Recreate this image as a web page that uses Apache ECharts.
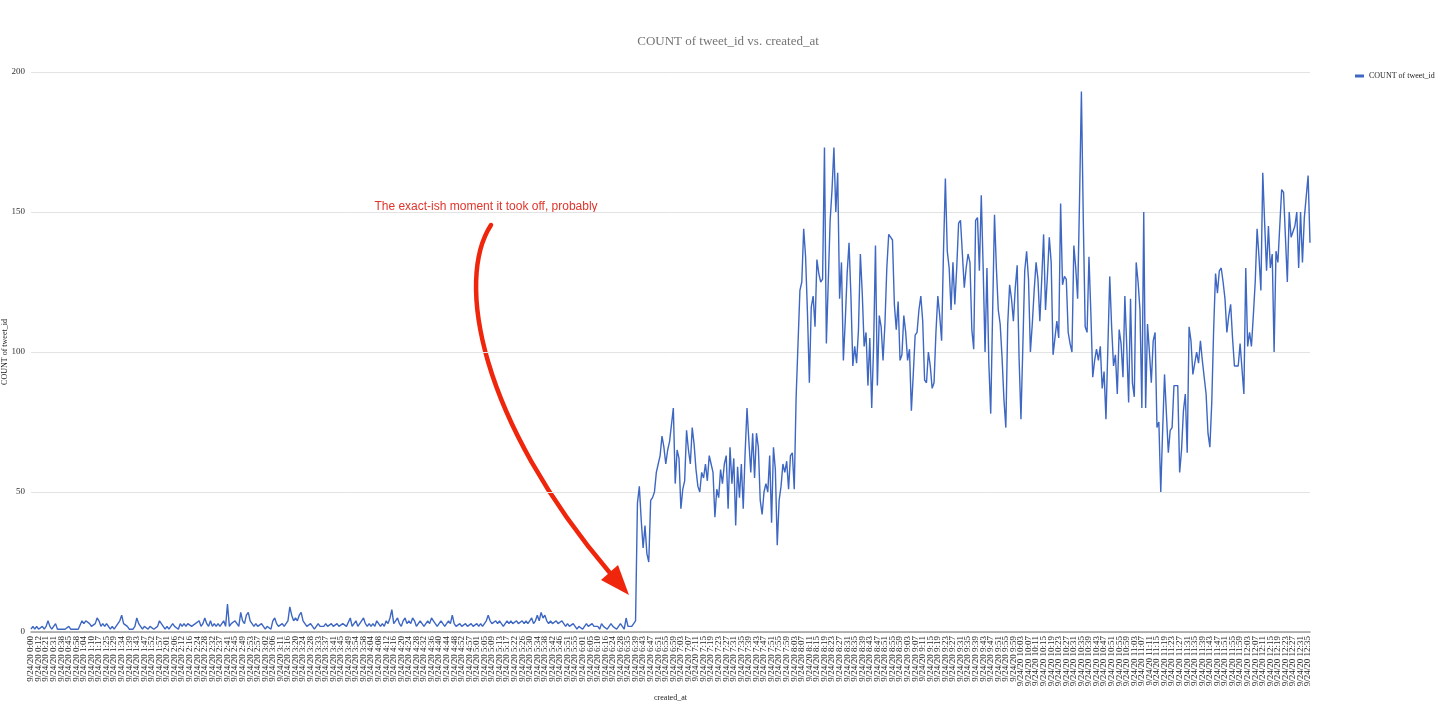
<!DOCTYPE html>
<html>
<head>
<meta charset="utf-8">
<title>COUNT of tweet_id vs. created_at</title>
<script src="https://cdn.jsdelivr.net/npm/echarts@6/dist/echarts.min.js"></script>
<style>
  html, body { margin: 0; padding: 0; background: #fff; }
  #chart { width: 1456px; height: 709px; }
</style>
</head>
<body>
<div id="chart"></div>
<script>
// x 轴上显示的时间标签（每 4 个类目显示一个）
const tickTimes = [
  '0:00', '0:12', '0:21', '0:31', '0:38', '0:45', '0:58', '1:04', '1:10', '1:17',
  '1:25', '1:29', '1:34', '1:39', '1:43', '1:47', '1:52', '1:57', '2:01', '2:06',
  '2:12', '2:16', '2:24', '2:28', '2:32', '2:37', '2:41', '2:45', '2:49', '2:53',
  '2:57', '3:02', '3:06', '3:11', '3:16', '3:20', '3:24', '3:28', '3:33', '3:37',
  '3:41', '3:45', '3:49', '3:54', '3:58', '4:04', '4:08', '4:12', '4:16', '4:20',
  '4:24', '4:28', '4:32', '4:36', '4:40', '4:44', '4:48', '4:52', '4:57', '5:01',
  '5:05', '5:09', '5:13', '5:17', '5:22', '5:26', '5:30', '5:34', '5:38', '5:42',
  '5:46', '5:51', '5:55', '6:01', '6:05', '6:10', '6:16', '6:24', '6:28', '6:35',
  '6:39', '6:43', '6:47', '6:51', '6:55', '6:59', '7:03', '7:07', '7:11', '7:15',
  '7:19', '7:23', '7:27', '7:31', '7:35', '7:39', '7:43', '7:47', '7:51', '7:55',
  '7:59', '8:03', '8:07', '8:11', '8:15', '8:19', '8:23', '8:27', '8:31', '8:35',
  '8:39', '8:43', '8:47', '8:51', '8:55', '8:59', '9:03', '9:07', '9:11', '9:15',
  '9:19', '9:23', '9:27', '9:31', '9:35', '9:39', '9:43', '9:47', '9:51', '9:55',
  '9:59', '10:03', '10:07', '10:11', '10:15', '10:19', '10:23', '10:27', '10:31', '10:35',
  '10:39', '10:43', '10:47', '10:51', '10:55', '10:59', '11:03', '11:07', '11:11', '11:15',
  '11:19', '11:23', '11:27', '11:31', '11:35', '11:39', '11:43', '11:47', '11:51', '11:55',
  '11:59', '12:03', '12:07', '12:11', '12:15', '12:19', '12:23', '12:27', '12:31', '12:35'
]

// 0:00 - 6:38 每分钟的推文数
const countsBefore = [
  1, 2, 1, 2, 1, 1, 2, 1, 2, 4, 2, 1, 1, 3, 1, 1, 1, 1, 1, 1,
  2, 1, 1, 1, 1, 1, 1, 4, 3, 4, 4, 3, 2, 2, 3, 5, 4, 2, 3, 2,
  3, 2, 1, 2, 1, 2, 3, 4, 6, 3, 3, 2, 1, 1, 1, 2, 5, 3, 2, 1,
  2, 2, 1, 2, 2, 1, 1, 2, 4, 3, 2, 1, 2, 1, 2, 3, 2, 2, 1, 3,
  2, 3, 2, 3, 3, 2, 2, 3, 3, 4, 2, 3, 5, 3, 2, 4, 2, 3, 2, 3,
  2, 3, 4, 2, 10, 2, 3, 3, 4, 3, 2, 7, 4, 3, 6, 7, 4, 3, 2, 3,
  2, 2, 3, 2, 1, 2, 2, 1, 4, 5, 3, 2, 2, 3, 2, 3, 4, 9, 6, 4,
  5, 4, 6, 7, 4, 3, 2, 2, 3, 2, 1, 2, 3, 2, 2, 2, 3, 2, 2, 3,
  2, 2, 3, 2, 2, 3, 3, 2, 2, 5, 2, 3, 4, 2, 3, 4, 5, 3, 2, 3,
  2, 3, 2, 4, 3, 2, 3, 2, 4, 3, 5, 8, 3, 4, 5, 3, 2, 4, 5, 3,
  4, 3, 5, 4, 2, 3, 4, 3, 2, 3, 4, 3, 5, 4, 3, 2, 3, 4, 3, 2,
  3, 4, 3, 6, 3, 2, 2, 3, 2, 2, 3, 2, 2, 3, 2, 2, 3, 2, 3, 2,
  3, 4, 6, 4, 3, 3, 4, 3, 4, 3, 2, 3, 4, 3, 4, 3, 3, 4, 3, 3,
  4, 3, 4, 3, 4, 5, 3, 4, 6, 4, 7, 5, 6, 4, 3, 4, 3, 3, 4, 3,
  3, 4, 3, 2, 3, 2, 2, 3, 2, 1, 2, 2, 1, 2, 3, 2, 2, 3, 2, 2,
  2, 1, 3, 2, 2, 1, 2, 3, 2, 2, 1, 2, 3, 2, 1, 5, 2, 2, 2, 3
]

// 6:39 之后每分钟的推文数
const countsAfter = [
  4, 46, 52, 40, 30, 38, 28, 25, 47, 48, 50, 57, 60, 63, 70, 66, 60, 65, 68, 68,
  80, 53, 65, 62, 44, 51, 54, 72, 65, 60, 73, 67, 58, 52, 50, 57, 55, 60, 54, 63,
  60, 57, 41, 51, 48, 58, 53, 60, 63, 44, 66, 53, 62, 38, 59, 48, 60, 44, 64, 80,
  68, 57, 71, 55, 71, 66, 47, 42, 50, 53, 50, 63, 39, 66, 58, 31, 47, 52, 60, 57,
  61, 51, 63, 64, 51, 84, 84,
  122, 125, 144, 134, 114, 89, 116, 120, 109, 133, 128, 125, 126, 173, 103, 103, 147, 158, 173, 150,
  164, 119, 132, 97, 111, 128, 139, 120, 95, 102, 96, 108, 135, 121, 102, 107, 88, 105, 80, 102,
  138, 88, 113, 109, 97, 110, 130, 142, 141, 140, 117, 108, 118, 97, 99, 113, 107, 97, 101, 79,
  92, 106, 107, 115, 120, 111, 90, 89, 100, 95, 87, 89, 107, 120, 113, 104, 136, 162, 136, 130,
  115, 132, 117, 130, 146, 147, 135, 123, 130, 135,
  132, 108, 101, 147, 148, 129, 156, 130, 100, 130, 96, 78, 114, 149, 130, 115, 110, 98, 83, 73,
  110, 124, 119, 111, 123, 131, 98, 76, 102, 129, 136, 126, 100, 110, 122, 132, 126, 111, 126, 142,
  115, 127, 141, 132, 99, 99, 111, 105, 153, 124, 127, 126, 107, 103, 100, 138, 130, 119, 154, 193,
  147, 109, 107, 134, 114, 91, 97, 101, 97, 102, 87, 93, 76, 76, 127, 109, 95, 99, 85, 108,
  103, 91, 120, 102, 82, 119, 89, 84,
  132, 125, 115, 80, 150, 80, 110, 100, 89, 104, 107, 73, 75, 50, 72, 92, 78, 64, 72, 73,
  88, 88, 88, 57, 65, 79, 85, 64, 109, 104, 92, 92, 100, 96, 104, 97, 97, 85, 71, 66,
  82, 108, 128, 121, 129, 130, 125, 119, 107, 113, 117, 105, 95, 95, 95, 103, 103, 85, 130, 102,
  107, 102, 113, 125, 144, 134, 122, 164, 146, 129, 145, 130, 135, 100, 136, 132, 145, 158, 157, 141,
  125, 150, 141, 141, 145, 150, 130, 150, 132, 148, 148, 163, 139
]

const yTicks = [0, 50, 100, 150, 200]

const tweetCounts = countsBefore.concat(countsAfter)

// 类目名：显示的标签后面跟 3 个不显示的类目
function addMinutes(t, k) {
  const [h, m] = t.split(':').map(Number)
  const total = h * 60 + m + k
  return Math.floor(total / 60) + ':' + String(total % 60).padStart(2, '0')
}
const categories = []
tickTimes.forEach((t) => {
  for (let k = 0; k < 4; k++) {
    categories.push('9/24/20 ' + addMinutes(t, k))
  }
})
categories.length = tweetCounts.length

const serif = 'Liberation Serif, Times New Roman, serif'
const chart = echarts.init(document.getElementById('chart'))

const option = {
  backgroundColor: '#ffffff',
  animation: false,
  title: {
    text: 'COUNT of tweet_id vs. created_at',
    left: 'center',
    top: 30,
    textStyle: { fontFamily: serif, fontSize: 13, fontWeight: 'normal', color: '#757575' }
  },
  legend: {
    left: 1350,
    top: 67,
    icon: 'rect',
    itemWidth: 9,
    itemHeight: 3,
    itemGap: 4,
    textStyle: { fontFamily: serif, fontSize: 8, color: '#222' }
  },
  grid: {
    left: 31,
    right: 146,
    top: 72,
    bottom: 77,
    // v6 默认会把标签算进去，这里关掉
    outerBoundsMode: 'none',
    containLabel: false
  },
  xAxis: {
    type: 'category',
    data: categories,
    boundaryGap: false,
    name: 'created_at',
    nameLocation: 'middle',
    nameGap: 57,
    nameTextStyle: { fontFamily: serif, fontSize: 8, color: '#222' },
    axisLine: { lineStyle: { color: '#9e9e9e', width: 1.5 } },
    axisTick: { show: false },
    axisLabel: {
      // interval 为 0 时不做首尾标签的重叠检查，自己每 4 个显示一个
      interval: 0,
      formatter: (value, index) => (index % 4 === 0 ? value : ''),
      rotate: 90,
      margin: 4,
      hideOverlap: false,
      fontFamily: serif,
      fontSize: 9,
      lineHeight: 7,
      color: '#222'
    },
    splitLine: { show: false }
  },
  yAxis: {
    type: 'value',
    min: yTicks[0],
    max: yTicks[yTicks.length - 1],
    interval: 50,
    name: 'COUNT of tweet_id',
    nameLocation: 'middle',
    nameGap: 22,
    nameMoveOverlap: false,
    nameTextStyle: { fontFamily: serif, fontSize: 8, color: '#222' },
    axisLine: { show: false },
    axisTick: { show: false },
    axisLabel: { fontFamily: serif, fontSize: 9, color: '#333', margin: 6 },
    splitLine: { lineStyle: { color: '#e3e3e3', width: 1 } }
  },
  series: [
    {
      name: 'COUNT of tweet_id',
      type: 'line',
      data: tweetCounts,
      showSymbol: false,
      symbol: 'none',
      lineStyle: { color: '#3d67c3', width: 1.4 },
      itemStyle: { color: '#3d67c3' }
    }
  ],
  // 注释文字和红色箭头
  graphic: [
    {
      type: 'text',
      x: 486,
      y: 207,
      style: {
        text: 'The exact-ish moment it took off, probably',
        fontFamily: 'Liberation Sans, Arial, sans-serif',
        fontSize: 12,
        fill: '#e0352b',
        textAlign: 'center',
        textVerticalAlign: 'middle'
      }
    },
    {
      type: 'bezierCurve',
      shape: { x1: 491, y1: 225, cpx1: 455, cpy1: 280, cpx2: 480, cpy2: 420, x2: 610, y2: 573 },
      style: { stroke: '#f0260c', lineWidth: 4.5, fill: null, lineCap: 'round' }
    },
    {
      type: 'polygon',
      shape: { points: [[629, 595], [618, 565], [601, 580]] },
      style: { fill: '#f0260c' }
    }
  ]
}

chart.setOption(option)
</script>
</body>
</html>
